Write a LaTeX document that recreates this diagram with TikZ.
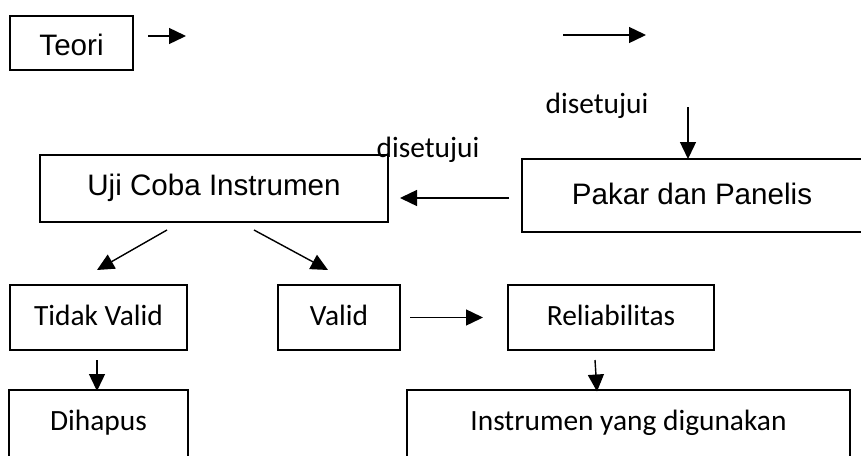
\documentclass[tikz,border=0pt]{standalone}
\usepackage{fontspec}
\newfontfamily\arialfont{Liberation Sans}
\newfontfamily\calibrifont{Carlito}
\usetikzlibrary{arrows.meta,calc}
% text depth 0 and a chosen text height put the baseline half that height below the centre
\tikzset{
  boxA/.style={draw, line width=2pt, rectangle, inner sep=0pt,
    font=\arialfont\fontsize{29.6}{34}\selectfont, text depth=0pt},
  boxC/.style={draw, line width=2pt, rectangle, inner sep=0pt,
    font=\calibrifont\fontsize{29.4}{34}\selectfont, text depth=0pt},
  openbox/.style={draw=none},
  edgeline/.style={line width=2pt},
  arr/.style={line width=1.4pt, -{Triangle[length=17pt,width=16pt]}},
  lbl/.style={inner sep=0pt, anchor=base, font=\calibrifont\fontsize{29.4}{34}\selectfont}
}
\begin{document}
\begin{tikzpicture}[x=1pt,y=-1pt]
  \useasboundingbox (0,0) rectangle (861,455);
  \fill[white] (0,0) rectangle (861,455);
  \clip (0,0) rectangle (861,455);

  % boxes
  \node[boxA, text height=24pt, minimum width=123pt, minimum height=54pt] (teori) at (71.5,43) {Teori};
  \node[boxA, text height=13pt, minimum width=348pt, minimum height=67pt] (uji) at (214,188.5) {Uji Coba Instrumen};
  \node[boxA, openbox, text height=17pt, minimum width=338pt, minimum height=71pt] (pakar) at (692,195.5) {Pakar dan Panelis};
  \draw[edgeline] (pakar.north east) -- (pakar.north west) -- (pakar.south west) -- (pakar.south east);

  \node[boxC, text height=15pt, minimum width=177pt, minimum height=65pt] (tidak) at (98.5,317.5) {Tidak Valid};
  \node[boxC, text height=15pt, minimum width=122pt, minimum height=65pt] (valid) at (339,317.5) {Valid};
  \node[boxC, text height=15pt, minimum width=206pt, minimum height=65pt] (rel) at (611,317.5) {Reliabilitas};

  \node[boxC, openbox, text height=12pt, minimum width=177pt, minimum height=66pt] (hapus) at (98.5,424) {Dihapus};
  \draw[edgeline] (hapus.south west) -- (hapus.north west) -- (hapus.north east) -- (hapus.south east);
  \node[boxC, openbox, text height=12pt, minimum width=441pt, minimum height=66pt] (pakai) at (628.5,424) {Instrumen yang digunakan};
  \draw[edgeline] (pakai.south west) -- (pakai.north west) -- (pakai.north east) -- (pakai.south east);

  % labels
  \node[lbl] (ok1) at (597,113) {disetujui};
  \node[lbl] (ok2) at (428,157) {disetujui};

  % loose arrows along the top row
  \coordinate (top1s) at (563,35);
  \coordinate (top1e) at (646,35);
  \coordinate (down1s) at (688,107);
  \draw[arr] ($(teori.east)+(14,-7)$) -- ($(teori.east)+(52,-7)$);
  \draw[arr] (top1s) -- (top1e);
  \draw[arr] (down1s) -- (down1s |- pakar.north);

  % connectors
  \draw[arr] ($(pakar.west)+(-13,2.5)$) -- ($(uji.east)+(11,9.5)$);
  \draw[arr] ($(uji.south)+(-47,7)$) -- ($(uji.south)+(-117,47)$);
  \draw[arr] ($(uji.south)+(40,7)$) -- ($(uji.south)+(114,47)$);
  \draw[arr] ($(valid.east)+(9,0)$) -- ($(valid.east)+(82,0)$);
  \draw[arr] ($(tidak.south)+(-1.5,9)$) -- ($(tidak.south)+(-1.5,40)$);
  \draw[arr] ($(rel.south)+(-16,9)$) -- ($(rel.south)+(-14,40.5)$);
\end{tikzpicture}
\end{document}
